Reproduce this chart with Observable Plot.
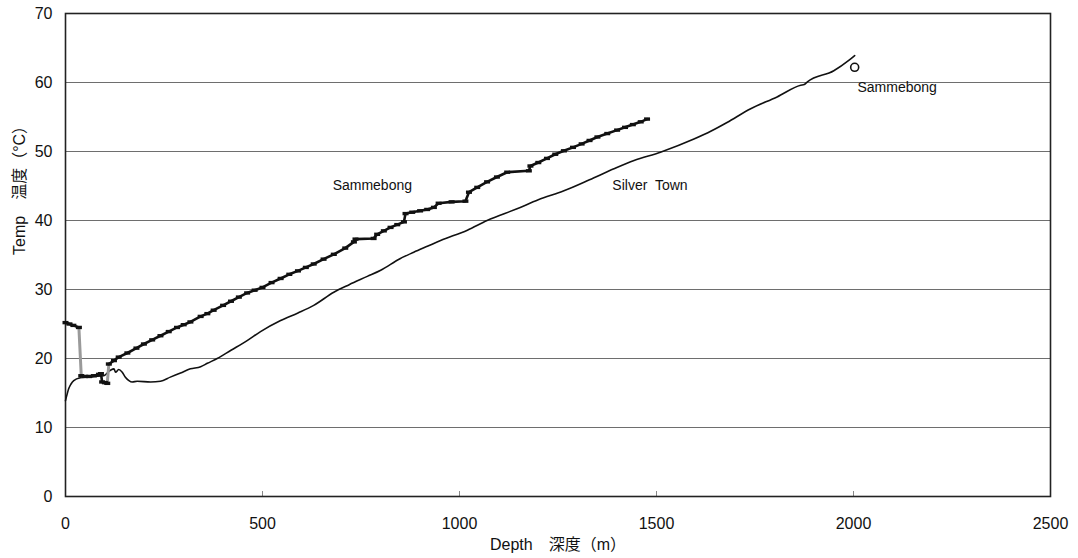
<!DOCTYPE html>
<html>
<head>
<meta charset="utf-8">
<script src="https://cdn.jsdelivr.net/npm/d3@7"></script>
<script src="https://cdn.jsdelivr.net/npm/@observablehq/plot@0.6"></script>
<style>
  html, body { margin: 0; padding: 0; background: #fff; }
</style>
</head>
<body>
<div id="chart"></div>
<script>
// ---- Data ----
const xTicks = [0, 500, 1000, 1500, 2000, 2500];
const yTicks = [0, 10, 20, 30, 40, 50, 60, 70];
const xLabel = "Depth\u3000深度（m）";
const yLabel = "Temp\u3000温度（°C）";

// Sammebong well log, three black pieces joined by grey jumps
const samA_depth = [0, 10, 20, 34];
const samA_temp  = [25.2, 25.0, 24.8, 24.5];
const samB_depth = [40, 50, 60, 72, 85, 90, 93, 100, 106];
const samB_temp  = [17.5, 17.4, 17.4, 17.5, 17.7, 17.8, 16.6, 16.5, 16.4];
const samC_depth = [110, 123, 135, 157, 180, 199, 220, 241, 262, 283, 300, 317, 343, 360, 376, 400, 420, 440, 461, 480, 500, 523, 546, 568, 590, 610, 630, 655, 681, 710, 732, 736, 782, 791, 808, 825, 842, 859, 863, 880, 900, 918, 935, 947, 980, 1015, 1024, 1045, 1070, 1095, 1121, 1176, 1180, 1200, 1222, 1243, 1265, 1288, 1310, 1330, 1350, 1375, 1400, 1420, 1440, 1460, 1476];
const samC_temp  = [19.2, 19.7, 20.2, 20.8, 21.5, 22.1, 22.7, 23.3, 23.9, 24.5, 24.9, 25.3, 26.1, 26.5, 27.0, 27.7, 28.3, 28.9, 29.5, 29.9, 30.3, 31.0, 31.6, 32.2, 32.7, 33.2, 33.7, 34.4, 35.1, 36.0, 36.9, 37.3, 37.4, 38.0, 38.5, 39.0, 39.4, 39.8, 41.0, 41.2, 41.4, 41.6, 41.9, 42.5, 42.7, 42.8, 44.1, 44.8, 45.6, 46.3, 47.0, 47.2, 47.9, 48.4, 49.0, 49.6, 50.1, 50.6, 51.1, 51.6, 52.1, 52.6, 53.1, 53.5, 53.9, 54.3, 54.7];

// Silver Town well log
const silDepth = [0, 4, 8, 14, 21, 38, 55, 72, 97, 114, 123, 127, 135, 144, 152, 161, 169, 182, 216, 241, 266, 292, 317, 343, 360, 385, 420, 461, 495, 546, 590, 630, 681, 720, 766, 800, 850, 884, 920, 952, 1020, 1070, 1146, 1200, 1265, 1330, 1392, 1443, 1510, 1595, 1640, 1679, 1739, 1806, 1866, 1875, 1883, 1950, 1988, 2003];
const silTemp  = [13.9, 14.8, 15.6, 16.3, 16.8, 17.2, 17.3, 17.4, 17.5, 18.3, 18.5, 18.0, 18.4, 18.0, 17.3, 16.8, 16.6, 16.7, 16.6, 16.7, 17.3, 17.9, 18.5, 18.8, 19.3, 20.0, 21.2, 22.6, 23.9, 25.5, 26.6, 27.7, 29.6, 30.7, 31.9, 32.8, 34.5, 35.4, 36.3, 37.1, 38.6, 40.0, 41.7, 43.0, 44.3, 45.9, 47.5, 48.7, 49.9, 51.8, 53.0, 54.2, 56.2, 57.9, 59.6, 59.7, 60.1, 61.7, 63.2, 63.9];

// Single Sammebong measurement (circle)
const pointDepth = [2003];
const pointTemp  = [62.2];

// Text annotations
const noteText  = ["Sammebong", "Silver  Town", "Sammebong"];
const noteDepth = [678, 1388, 2010];
const noteTemp  = [45.0, 45.1, 59.3];

// ---- Build tables ----
const zip = (xs, ys) => xs.map((x, i) => ({depth: x, temp: ys[i]}));
const samA = zip(samA_depth, samA_temp);
const samB = zip(samB_depth, samB_temp);
const samC = zip(samC_depth, samC_temp);
const samAll = [...samA, ...samB, ...samC];
const jumps = [
  {g: 1, ...samA[samA.length - 1]}, {g: 1, ...samB[0]},
  {g: 2, ...samB[samB.length - 1]}, {g: 2, ...samC[0]}
];
const silver = zip(silDepth, silTemp);
const points = zip(pointDepth, pointTemp);
const notes = noteText.map((t, i) => ({text: t, depth: noteDepth[i], temp: noteTemp[i]}));

const dash = {
  draw(context) {
    context.moveTo(-3, -1.7);
    context.lineTo(3, -1.7);
    context.lineTo(3, 1.7);
    context.lineTo(-3, 1.7);
    context.closePath();
  }
};

const chart = Plot.plot({
  width: 1078,
  height: 558,
  marginTop: 13,
  marginRight: 28,
  marginBottom: 62,
  marginLeft: 65,
  style: {
    fontFamily: "'Liberation Sans', Arial, 'Noto Sans CJK JP', sans-serif",
    fontSize: "16px",
    background: "#fff",
    color: "#111"
  },
  x: {domain: [0, 2500], nice: false},
  y: {domain: [0, 70], nice: false},
  marks: [
    Plot.gridY(yTicks, {stroke: "#6e6e6e", strokeOpacity: 1, strokeWidth: 1}),
    Plot.axisY({ticks: yTicks, tickSize: 0, tickPadding: 13, label: null, fontSize: 16, tickFormat: d => String(d)}),
    Plot.axisX({ticks: xTicks, tickSize: 0, tickPadding: 21, label: null, fontSize: 16, tickFormat: d => String(d)}),
    Plot.ruleX(xTicks.slice(1, -1), {y1: 0, y2: 0, insetTop: -5, stroke: "#888", strokeWidth: 1}),
    Plot.frame({stroke: "#222", strokeWidth: 1.6}),
    // Silver Town
    Plot.line(silver, {x: "depth", y: "temp", stroke: "#111", strokeWidth: 1.6, curve: "monotone-x"}),
    // Sammebong grey jumps
    Plot.line(jumps, {x: "depth", y: "temp", z: "g", stroke: "#9a9a9a", strokeWidth: 3}),
    // Sammebong pieces
    Plot.line(samA, {x: "depth", y: "temp", stroke: "#111", strokeWidth: 2.6}),
    Plot.line(samB, {x: "depth", y: "temp", stroke: "#111", strokeWidth: 2.6}),
    Plot.line(samC, {x: "depth", y: "temp", stroke: "#111", strokeWidth: 2.6}),
    Plot.dot(samAll, {x: "depth", y: "temp", symbol: dash, fill: "#111", stroke: "none", r: 3}),
    // Single point
    Plot.dot(points, {x: "depth", y: "temp", r: 4, stroke: "#111", strokeWidth: 1.6, fill: "none"}),
    // Annotations
    Plot.text(notes, {x: "depth", y: "temp", text: "text", textAnchor: "start", fontSize: 14, fill: "#111"}),
    // Axis titles
    Plot.text([xLabel], {frameAnchor: "bottom", dy: 53, fontSize: 16, fill: "#111"}),
    Plot.text([yLabel], {frameAnchor: "left", dx: -46, rotate: -90, fontSize: 16, fill: "#111"})
  ]
});
document.getElementById("chart").appendChild(chart);
</script>
</body>
</html>
